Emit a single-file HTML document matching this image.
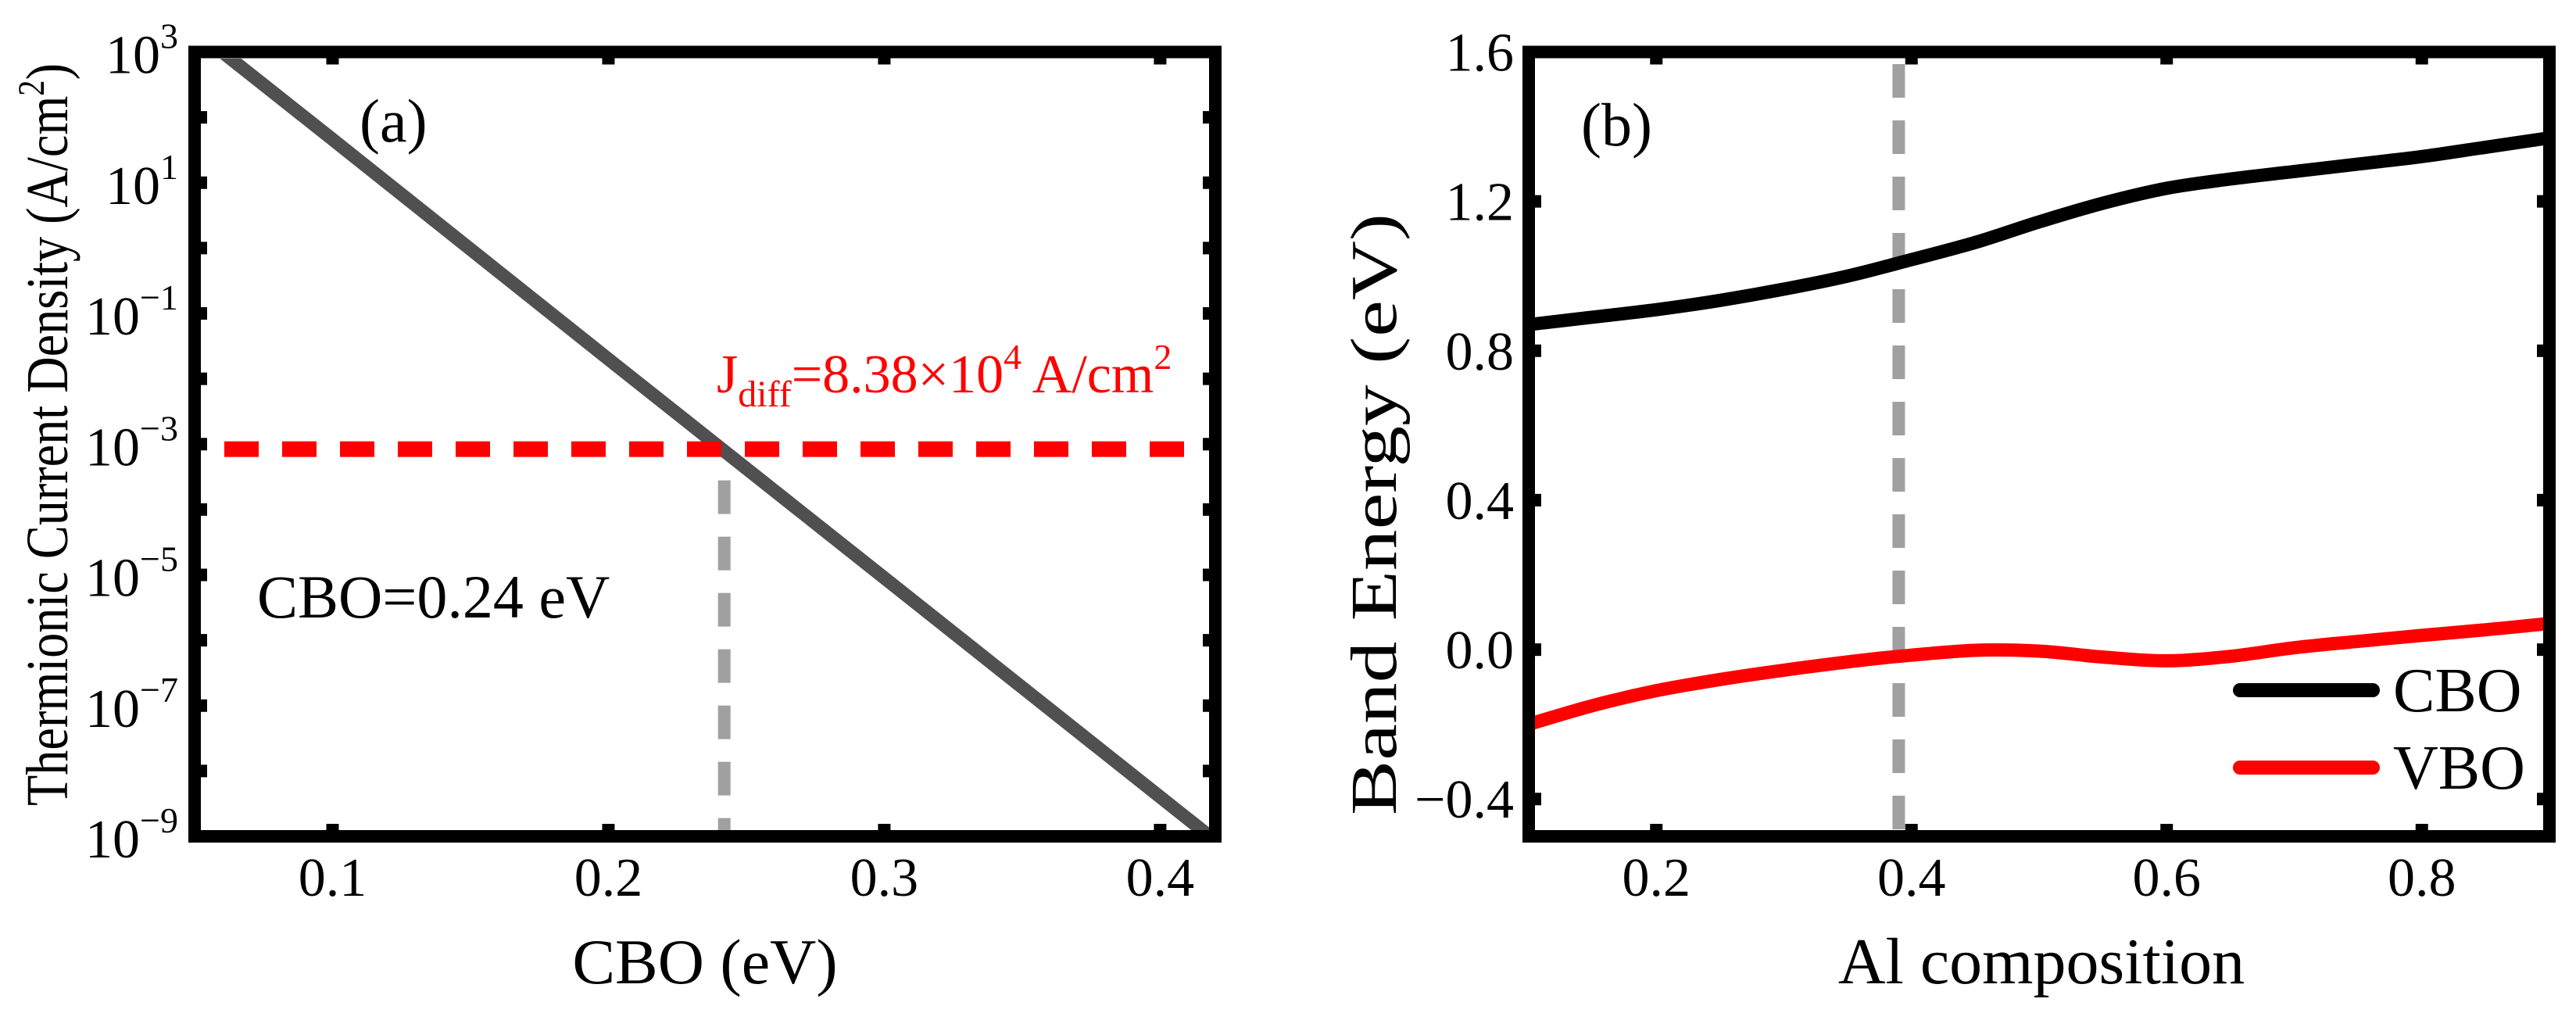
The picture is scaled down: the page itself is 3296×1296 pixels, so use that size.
<!DOCTYPE html>
<html><head><meta charset="utf-8"><style>
html,body{margin:0;padding:0;background:#fff;}
svg{display:block;font-family:"Liberation Serif",serif;}
</style></head><body>
<svg id="fig" width="3296" height="1296" viewBox="0 0 3296 1296" xmlns="http://www.w3.org/2000/svg">
<rect width="3296" height="1296" fill="#fff"/>
<g id="pa"></g>
<g id="pb"></g>
</svg>
<script>
// Panel (a) data
const cboX = [0.06, 0.1, 0.2, 0.3, 0.418];
const currentJ = [1e3, 4.6e1, 2.0e-2, 9.0e-6, 1e-9];
const jDiff = 8.38e-4;
const cboMark = 0.242;
const aXTicks = [0.1, 0.2, 0.3, 0.4];
const aXTickLabels = ["0.1", "0.2", "0.3", "0.4"];
const aYTickExps = [3,2,1,0,-1,-2,-3,-4,-5,-6,-7,-8,-9];
const aYLabelExps = [3, 1, -1, -3, -5, -7, -9];
// Panel (b) data
const alX = [0.1, 0.15, 0.2, 0.25, 0.3, 0.35, 0.39, 0.45, 0.5, 0.55, 0.6, 0.65, 0.7, 0.75, 0.8, 0.85, 0.9];
const cboE = [0.87, 0.89, 0.91, 0.935, 0.965, 1.0, 1.035, 1.09, 1.145, 1.195, 1.235, 1.26, 1.28, 1.3, 1.32, 1.345, 1.37];
const vboE = [-0.2, -0.15, -0.11, -0.08, -0.055, -0.033, -0.018, -0.002, -0.004, -0.02, -0.03, -0.018, 0.005, 0.022, 0.038, 0.053, 0.07];
const alMark = 0.39;
const bXTicks = [0.2, 0.4, 0.6, 0.8];
const bXTickLabels = ["0.2", "0.4", "0.6", "0.8"];
const bYTicks = [-0.4, 0.0, 0.4, 0.8, 1.2, 1.6];
const bYTickLabels = ["\u22120.4", "0.0", "0.4", "0.8", "1.2", "1.6"];

const NS = "http://www.w3.org/2000/svg";
function mk(parent, tag, attrs, text){
  const e = document.createElementNS(NS, tag);
  for (const k in attrs) e.setAttribute(k, attrs[k]);
  if (text !== undefined) e.textContent = text;
  parent.appendChild(e);
  return e;
}
const T = 66.5, B = 1070;
// ---------- Panel A ----------
const pa = document.getElementById('pa');
const aL = 249, aR = 1555;
const ax = v => aL + (v - 0.05) / (0.42 - 0.05) * (aR - aL);
const ay = v => B - (Math.log10(v) + 9) / 12 * (B - T);
const ayE = e => B - (e + 9) / 12 * (B - T);

let d = cboX.map((x,i)=>(i?'L':'M')+ax(x).toFixed(1)+','+ay(currentJ[i]).toFixed(1)).join(' ');
const clipA = mk(pa,'clipPath',{id:'clipA'}); mk(clipA,'rect',{x:257,y:75,width:1290,height:987});
let el = mk(pa,'path',{d:d,stroke:'#505050','stroke-width':17,fill:'none','clip-path':'url(#clipA)'});


el = mk(pa,'line',{x1:257,x2:1522,y1:ay(jDiff),y2:ay(jDiff),stroke:'#ff0000','stroke-width':20,'stroke-dasharray':'44 30','stroke-dashoffset':'-30'});


el = mk(pa,'line',{x1:ax(cboMark),x2:ax(cboMark),y1:ay(jDiff)+40,y2:1062,stroke:'#a0a0a0','stroke-width':16,'stroke-dasharray':'43 29'});


// ticks
aXTicks.forEach((t,i)=>{
  const x = ax(t);
  el = mk(pa,'line',{x1:x,x2:x,y1:B,y2:B-16,stroke:'#000','stroke-width':16});
  
  
  mk(pa,'line',{x1:x,x2:x,y1:T,y2:T+16,stroke:'#000','stroke-width':16});
  el = mk(pa,'text',{x:x,y:1146,'font-size':70,'text-anchor':'middle'},aXTickLabels[i]);
  
  
});
aYTickExps.forEach(e=>{
  const y = ayE(e);
  el = mk(pa,'line',{x1:aL,x2:aL+16,y1:y,y2:y,stroke:'#000','stroke-width':16});
  
  
  mk(pa,'line',{x1:aR,x2:aR-16,y1:y,y2:y,stroke:'#000','stroke-width':16});
});
aYLabelExps.forEach(e=>{
  const y = ayE(e);
  const t = mk(pa,'text',{x:228,y:y+27,'font-size':70,'text-anchor':'end'});
  
  
  mk(t,'tspan',{},'10');
  mk(t,'tspan',{'font-size':46,dy:-32},(e<0?'\u2212':'')+Math.abs(e));
});
el = mk(pa,'rect',{x:aL,y:T,width:aR-aL,height:B-T,fill:'none',stroke:'#000','stroke-width':16});


el = mk(pa,'text',{x:902,y:1258,'font-size':82,'text-anchor':'middle'},'CBO (eV)');


el = mk(pa,'text',{x:0,y:0,'font-size':76,'text-anchor':'middle',transform:'translate(86,556) rotate(-90)',textLength:950,lengthAdjust:'spacingAndGlyphs'});


mk(el,'tspan',{},'Thermionic Current Density (A/cm');
mk(el,'tspan',{'font-size':48,dy:-30},'2');
mk(el,'tspan',{'font-size':76,dy:30},')');
el = mk(pa,'text',{x:460,y:181,'font-size':78},'(a)');


el = mk(pa,'text',{x:329,y:790,'font-size':78},'CBO=0.24 eV');


el = mk(pa,'text',{x:917,y:502,'font-size':70,fill:'#ff0000'});


mk(el,'tspan',{},'J');
mk(el,'tspan',{'font-size':48,dy:18},'diff');
mk(el,'tspan',{'font-size':70,dy:-18},'=8.38\u00d710');
mk(el,'tspan',{'font-size':46,dy:-30},'4');
mk(el,'tspan',{'font-size':70,dy:30},' A/cm');
mk(el,'tspan',{'font-size':46,dy:-30},'2');

// ---------- Panel B ----------
const pb = document.getElementById('pb');
const bL = 1956, bR = 3262;
const bx = v => bL + (v - 0.1) / 0.8 * (bR - bL);
const by = v => B - (v + 0.5) / 2.1 * (B - T);
function smooth(xs, ys){
  const p = xs.map((x,i)=>[bx(x), by(ys[i])]);
  let s = 'M'+p[0][0].toFixed(1)+','+p[0][1].toFixed(1);
  for (let i=0;i<p.length-1;i++){
    const p0=p[Math.max(0,i-1)], p1=p[i], p2=p[i+1], p3=p[Math.min(p.length-1,i+2)];
    const c1=[p1[0]+(p2[0]-p0[0])/6, p1[1]+(p2[1]-p0[1])/6];
    const c2=[p2[0]-(p3[0]-p1[0])/6, p2[1]-(p3[1]-p1[1])/6];
    s+=' C'+c1[0].toFixed(1)+','+c1[1].toFixed(1)+' '+c2[0].toFixed(1)+','+c2[1].toFixed(1)+' '+p2[0].toFixed(1)+','+p2[1].toFixed(1);
  }
  return s;
}
const clipB = mk(pb,'clipPath',{id:'clipB'}); mk(clipB,'rect',{x:1964,y:75,width:1290,height:987});
el = mk(pb,'line',{x1:bx(alMark),x2:bx(alMark),y1:82,y2:1062,stroke:'#a0a0a0','stroke-width':16,'stroke-dasharray':'43 29'});


el = mk(pb,'path',{d:smooth(alX,cboE),stroke:'#000','stroke-width':17,fill:'none','clip-path':'url(#clipB)'});


el = mk(pb,'path',{d:smooth(alX,vboE),stroke:'#ff0000','stroke-width':17,fill:'none','clip-path':'url(#clipB)'});


bXTicks.forEach((t,i)=>{
  const x = bx(t);
  el = mk(pb,'line',{x1:x,x2:x,y1:B,y2:B-16,stroke:'#000','stroke-width':16});
  
  
  mk(pb,'line',{x1:x,x2:x,y1:T,y2:T+16,stroke:'#000','stroke-width':16});
  el = mk(pb,'text',{x:x,y:1146,'font-size':70,'text-anchor':'middle'},bXTickLabels[i]);
  
  
});
bYTicks.forEach((t,i)=>{
  const y = by(t);
  el = mk(pb,'line',{x1:bL,x2:bL+16,y1:y,y2:y,stroke:'#000','stroke-width':16});
  
  
  mk(pb,'line',{x1:bR,x2:bR-16,y1:y,y2:y,stroke:'#000','stroke-width':16});
  el = mk(pb,'text',{x:1937,y:y+24,'font-size':70,'text-anchor':'end'},bYTickLabels[i]);
  
  
});
el = mk(pb,'rect',{x:bL,y:T,width:bR-bL,height:B-T,fill:'none',stroke:'#000','stroke-width':16});


el = mk(pb,'text',{x:2612,y:1258,'font-size':84,'text-anchor':'middle'},'Al composition');


el = mk(pb,'text',{x:0,y:0,'font-size':84,'text-anchor':'middle',transform:'translate(1786,658) rotate(-90)',textLength:770,lengthAdjust:'spacingAndGlyphs'},'Band Energy (eV)');


el = mk(pb,'text',{x:2023,y:186,'font-size':78},'(b)');


el = mk(pb,'line',{x1:2866,x2:3036,y1:883,y2:883,stroke:'#000','stroke-width':18,'stroke-linecap':'round'});


el = mk(pb,'text',{x:3062,y:910,'font-size':80},'CBO');


el = mk(pb,'line',{x1:2866,x2:3036,y1:982,y2:982,stroke:'#ff0000','stroke-width':18,'stroke-linecap':'round'});


el = mk(pb,'text',{x:3062,y:1009,'font-size':80},'VBO');


</script>
</body></html>
